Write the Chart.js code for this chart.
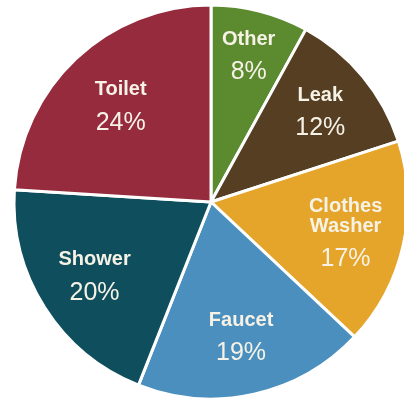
<!DOCTYPE html>
<html>
<head>
<meta charset="utf-8">
<script src="https://cdn.jsdelivr.net/npm/chart.js@4"></script>
<style>
  html, body { margin: 0; padding: 0; background: #fff; overflow: hidden; }
  #wrap { position: absolute; left: 0; top: 0; width: 422px; height: 404px; }
</style>
</head>
<body>
<div id="wrap"><canvas id="pie" width="422" height="404"></canvas></div>
<script>
// Water use by category (percent)
const categories = ['Other', 'Leak', 'Clothes\nWasher', 'Faucet', 'Shower', 'Toilet'];
const values = [8, 12, 17, 19, 20, 24];
const colors = ['#5b8a2f', '#553e22', '#e5a42a', '#4a8fbe', '#0f4f5d', '#962b3d'];

// how far out each label sits, as a share of the radius
const labelDist = [0.77, 0.72, 0.7, 0.7, 0.7, 0.67];

// draws the name + percent inside each slice
const sliceLabels = {
    id: 'sliceLabels',
    afterDatasetsDraw(chart) {
        const ctx = chart.ctx;
        const meta = chart.getDatasetMeta(0);
        ctx.save();
        ctx.fillStyle = '#f6f2e6';
        ctx.textAlign = 'center';
        ctx.textBaseline = 'middle';
        meta.data.forEach((arc, i) => {
            const mid = (arc.startAngle + arc.endAngle) / 2;
            const f = labelDist[i];
            const x = arc.x + Math.cos(mid) * arc.outerRadius * f;
            const y = arc.y + Math.sin(mid) * arc.outerRadius * f;
            const lines = chart.data.labels[i].split('\n');
            const pct = chart.data.datasets[0].data[i] + '%';
            const blockH = (lines.length - 1) * 20 + 32;
            let top = y - blockH / 2;
            ctx.font = 'bold 20px "Liberation Sans", Arial, sans-serif';
            lines.forEach((ln, k) => ctx.fillText(ln, x, top + k * 20));
            ctx.font = '25px "Liberation Sans", Arial, sans-serif';
            ctx.fillText(pct, x, top + (lines.length - 1) * 20 + 33);
        });
        ctx.restore();
    }
};

const chart = new Chart(document.getElementById('pie').getContext('2d'), {
    type: 'pie',
    data: {
        labels: categories,
        datasets: [{
            data: values,
            backgroundColor: colors,
            borderColor: '#ffffff',
            borderWidth: 3,
        }],
    },
    options: {
        responsive: false,
        animation: false,
        radius: 197,
        layout: { padding: 0 },
        plugins: {
            legend: { display: false },
            tooltip: { enabled: false },
        },
    },
    plugins: [sliceLabels],
});
</script>
</body>
</html>
